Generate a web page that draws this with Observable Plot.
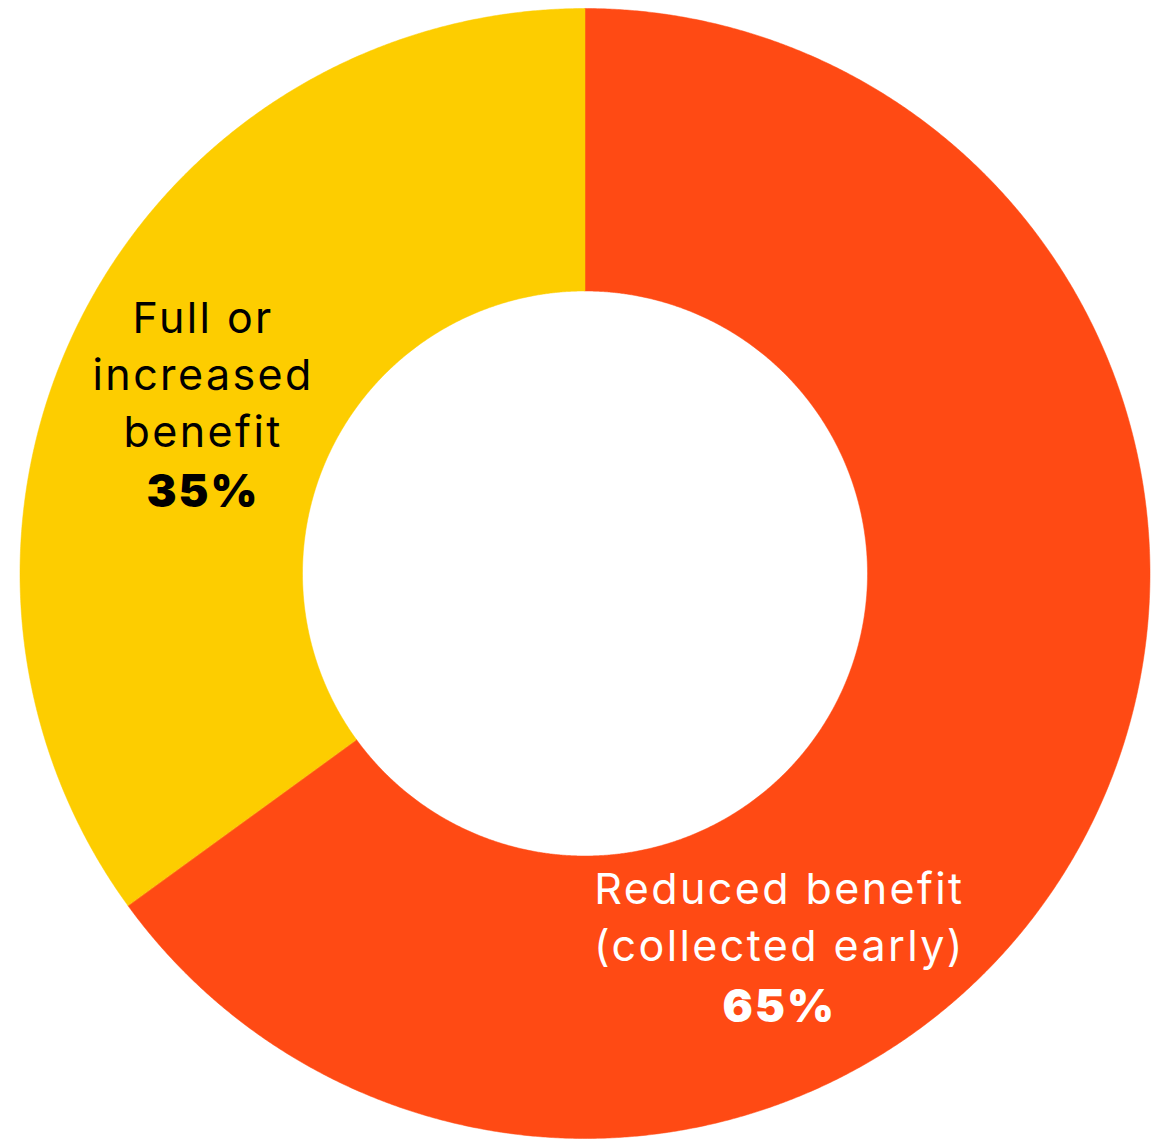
<!DOCTYPE html>
<html>
<head>
<meta charset="utf-8">
<script src="https://cdn.jsdelivr.net/npm/d3@7"></script>
<script src="https://cdn.jsdelivr.net/npm/@observablehq/plot@0.6"></script>
<style>
  html, body { margin: 0; padding: 0; background: #ffffff; }
  #chart svg { display: block; }
</style>
</head>
<body>
<div id="chart"></div>
<script>
// ---- data ----
const categories = ["Reduced benefit (collected early)", "Full or increased benefit"];
const values = [65, 35];
const valueLabels = ["65%", "35%"];
const labelLines = [["Reduced benefit", "(collected early)"], ["Full or", "increased", "benefit"]];

// ---- style / layout ----
const colors = ["#FF4A14", "#FDCD00"];
const textColors = ["#ffffff", "#000000"];
const W = 1157, H = 1140;
const R = 565;               // outer radius in px
const cx = 584.5, cy = 573;  // center in px
const innerRatio = 0.5;
const labelAnchor = [[0.342, -0.5858], [-0.678, 0.4248]]; // first baseline in data units
const lineStep = 57 / R;
const valueSteps = [61 / R, 60 / R];
const fontSize = 43;

// ---- geometry from data ----
const pie = d3.pie().sort(null).value(d => d.value).startAngle(0).endAngle(2 * Math.PI);
const arcs = pie(categories.map((c, i) => ({category: c, value: values[i]})));
const polyPoints = [];
arcs.forEach(a => {
  const n = Math.max(8, Math.ceil((a.endAngle - a.startAngle) / (Math.PI / 720)));
  for (let k = 0; k <= n; k++) {
    const t = a.startAngle + (a.endAngle - a.startAngle) * k / n;
    polyPoints.push({category: a.data.category, x: Math.sin(t), y: Math.cos(t)});
  }
  for (let k = n; k >= 0; k--) {
    const t = a.startAngle + (a.endAngle - a.startAngle) * k / n;
    polyPoints.push({category: a.data.category, x: innerRatio * Math.sin(t), y: innerRatio * Math.cos(t)});
  }
});

const textRows = [];
const valueRows = [];
categories.forEach((c, i) => {
  const [ax, ay] = labelAnchor[i];
  labelLines[i].forEach((line, j) => {
    textRows.push({category: c, text: line, x: ax, y: ay - j * lineStep, color: textColors[i]});
  });
  valueRows.push({category: c, text: valueLabels[i], x: ax, y: ay - (labelLines[i].length - 1) * lineStep - valueSteps[i], color: textColors[i]});
});

const plot = Plot.plot({
  width: W,
  height: H,
  marginLeft: cx - R,
  marginRight: W - (cx + R),
  marginTop: cy - R,
  marginBottom: H - (cy + R),
  x: {domain: [-1, 1], axis: null},
  y: {domain: [-1, 1], axis: null},
  color: {domain: categories, range: colors},
  style: {fontFamily: "Inter, 'Noto Sans', sans-serif", background: "#ffffff"},
  marks: [
    Plot.line(polyPoints, {x: "x", y: "y", z: "category", fill: "category", stroke: "category", strokeWidth: 0.5, curve: "linear-closed"}),
    Plot.text(textRows, {x: "x", y: "y", text: "text", fill: d => d.color, fontSize: fontSize, fontWeight: 400, lineAnchor: "bottom", textAnchor: "middle", dx: 1.2}),
    Plot.text(valueRows, {x: "x", y: "y", text: "text", fill: d => d.color, fontSize: 45, fontWeight: 900, lineAnchor: "bottom", textAnchor: "middle", dx: 1})
  ]
});
plot.querySelectorAll("text").forEach(t => {
  if (t.getAttribute("font-weight") === "900" || (t.parentNode && t.parentNode.getAttribute("font-weight") === "900")) {
    t.style.letterSpacing = "2px";
  } else {
    t.style.letterSpacing = "2.4px";
  }
});
document.getElementById("chart").appendChild(plot);
</script>
</body>
</html>
